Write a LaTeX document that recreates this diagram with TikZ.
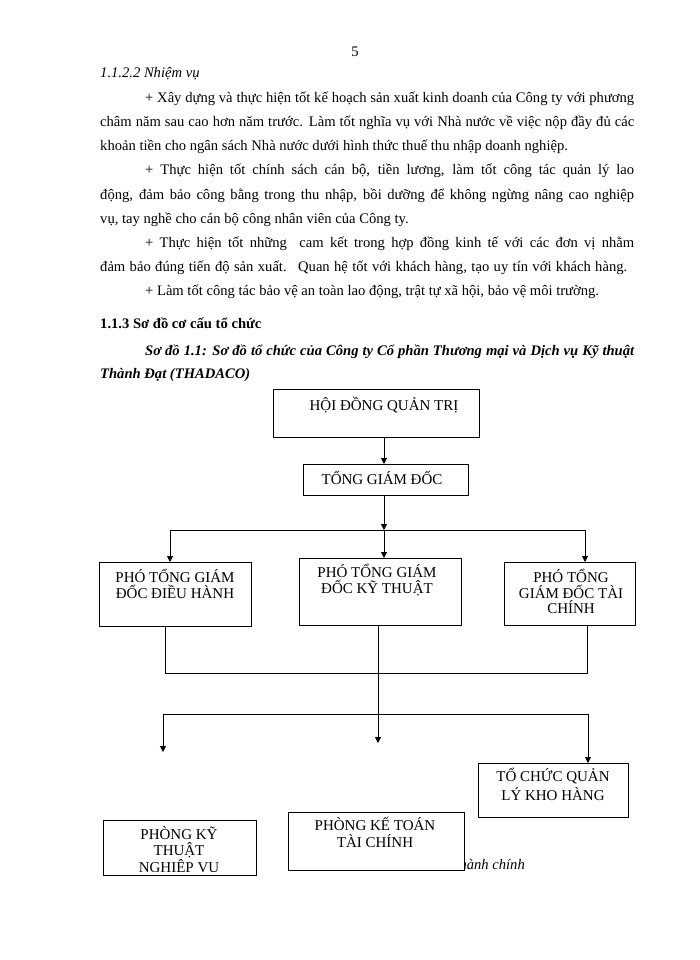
\documentclass[tikz,border=0pt]{standalone}
\usepackage{fontspec}
\setmainfont{Liberation Serif}
\usetikzlibrary{arrows.meta}
\begin{document}
\begin{tikzpicture}[x=1pt,y=-1pt,
  body/.style={anchor=base west, inner sep=0pt, font=\fontsize{14.6}{17}\selectfont},
  pagenum/.style={anchor=base, inner sep=0pt, font=\fontsize{14.6}{17}\selectfont},
  box/.style={draw, line width=1.1pt, anchor=north west, inner sep=0pt, fill=white},
  boxtext/.style={align=center, anchor=north, inner sep=0pt, font=\fontsize{15}{15.5}\selectfont},
  conn/.style={line width=1pt},
  arr/.style={conn, -{Triangle[length=6pt,width=6pt]}}]
\useasboundingbox (0,0) rectangle (700,960);
\fill[white] (0,0) rectangle (700,960);

% page text
\node[pagenum] (pn) at (355,57) {5};
\node[body, font=\fontsize{14.6}{17}\selectfont\itshape] (h1) at (100,78) {1.1.2.2 Nhiệm vụ};
\node[body] (l0) at (145,103) {\makebox[489pt][s]{+ Xây dựng và thực hiện tốt kế hoạch sản xuất kinh doanh của Công ty với phương}};
\node[body] (l1) at (100,127) {\makebox[534pt][s]{châm năm sau cao hơn năm trước. Làm tốt nghĩa vụ với Nhà nước về việc nộp đầy đủ các}};
\node[body] (l2) at (100,151) {khoản tiền cho ngân sách Nhà nước dưới hình thức thuế thu nhập doanh nghiệp.};
\node[body] (l3) at (145,175) {\makebox[489pt][s]{+ Thực hiện tốt chính sách cán bộ, tiền lương, làm tốt công tác quản lý lao}};
\node[body] (l4) at (100,199) {\makebox[534pt][s]{động, đảm bảo công bằng trong thu nhập, bồi dưỡng để không ngừng nâng cao nghiệp}};
\node[body] (l5) at (100,223) {vụ, tay nghề cho cán bộ công nhân viên của Công ty.};
\node[body] (l6) at (145,247) {\makebox[489pt][s]{+ Thực hiện tốt những \ cam kết trong hợp đồng kinh tế với các đơn vị nhằm}};
\node[body] (l7) at (100,271) {\makebox[527pt][s]{đảm bảo đúng tiến độ sản xuất. \ Quan hệ tốt với khách hàng, tạo uy tín với khách hàng.}};
\node[body] (l8) at (145,295) {+ Làm tốt công tác bảo vệ an toàn lao động, trật tự xã hội, bảo vệ môi trường.};
\node[body, font=\fontsize{14.6}{17}\selectfont\bfseries] (h2) at (100,328) {1.1.3 Sơ đồ cơ cấu tổ chức};
\node[body, font=\fontsize{14.6}{17}\selectfont\bfseries\itshape] (c1) at (145,355) {\makebox[489pt][s]{Sơ đồ 1.1: Sơ đồ tổ chức của Công ty Cổ phần Thương mại và Dịch vụ Kỹ thuật}};
\node[body, font=\fontsize{14.6}{17}\selectfont\bfseries\itshape] (c2) at (100,378) {Thành Đạt (THADACO)};

% partially hidden caption fragment
\node[anchor=base east, inner sep=0pt, font=\fontsize{14.6}{17}\selectfont\itshape] (frag) at (525,869) {hành chính};

% boxes
\node[box, minimum width=206pt, minimum height=48pt] (hdqt) at (273,389) {};
\node[boxtext] (hdqtT) at (384,397) {HỘI ĐỒNG QUẢN TRỊ};
\node[box, minimum width=165pt, minimum height=31pt] (tgd) at (303,464) {};
\node[boxtext] (tgdT) at (382,471) {TỔNG GIÁM ĐỐC};

\node[box, minimum width=152pt, minimum height=64pt] (pg1) at (99,562) {};
\node[boxtext] (pg1T) at (175,569) {PHÓ TỔNG GIÁM\\ĐỐC ĐIỀU HÀNH};
\node[box, minimum width=162pt, minimum height=67pt] (pg2) at (299,558) {};
\node[boxtext] (pg2T) at (377,564) {PHÓ TỔNG GIÁM\\ĐỐC KỸ THUẬT};
\node[box, minimum width=131pt, minimum height=63pt] (pg3) at (504,562) {};
\node[boxtext] (pg3T) at (571,569) {PHÓ TỔNG\\GIÁM ĐỐC TÀI\\CHÍNH};

\node[box, minimum width=150pt, minimum height=54pt] (kho) at (478,763) {};
\node[boxtext, font=\fontsize{15}{19}\selectfont] (khoT) at (553,768) {TỔ CHỨC QUẢN\\LÝ KHO HÀNG};

\node[box, minimum width=153pt, minimum height=55pt] (pkt) at (103,820) {};
\begin{scope}
\clip (pkt.north west) rectangle ([yshift=5pt]pkt.south east);
\node[boxtext, font=\fontsize{15}{16.5}\selectfont] (pktT) at (179,826) {PHÒNG KỸ\\THUẬT\\NGHIỆP VỤ};
\end{scope}
\node[box, minimum width=176pt, minimum height=58pt] (pkto) at (288,812) {};
\node[boxtext, font=\fontsize{15}{17}\selectfont] (pktoT) at (375,817) {PHÒNG KẾ TOÁN\\TÀI CHÍNH};

% connectors
\coordinate (b1L) at (170,530);
\coordinate (b1M) at (384,530);
\coordinate (b1R) at (585,530);
\draw[arr] (hdqt.south -| 384,0) -- (tgd.north -| 384,0);
\draw[arr] (tgd.south -| b1M) -- (b1M);
\draw[conn] (b1L) -- (b1R);
\draw[arr] (b1L) -- (b1L |- pg1.north);
\draw[arr] (b1M) -- (b1M |- pg2.north);
\draw[arr] (b1R) -- (b1R |- pg3.north);

\coordinate (j1L) at (165,673);
\coordinate (j1R) at (587,673);
\draw[conn] (pg1.south -| j1L) -- (j1L) -- (j1R) -- (pg3.south -| j1R);

\coordinate (b2L) at (163,714);
\coordinate (b2R) at (588,714);
\coordinate (eL) at (163,752);
\coordinate (eM) at (378,743);
\draw[conn] (b2L) -- (b2R);
\draw[arr] (pg2.south -| eM) -- (eM);
\draw[arr] (b2L) -- (eL);
\draw[arr] (b2R) -- (b2R |- kho.north);
\end{tikzpicture}
\end{document}
